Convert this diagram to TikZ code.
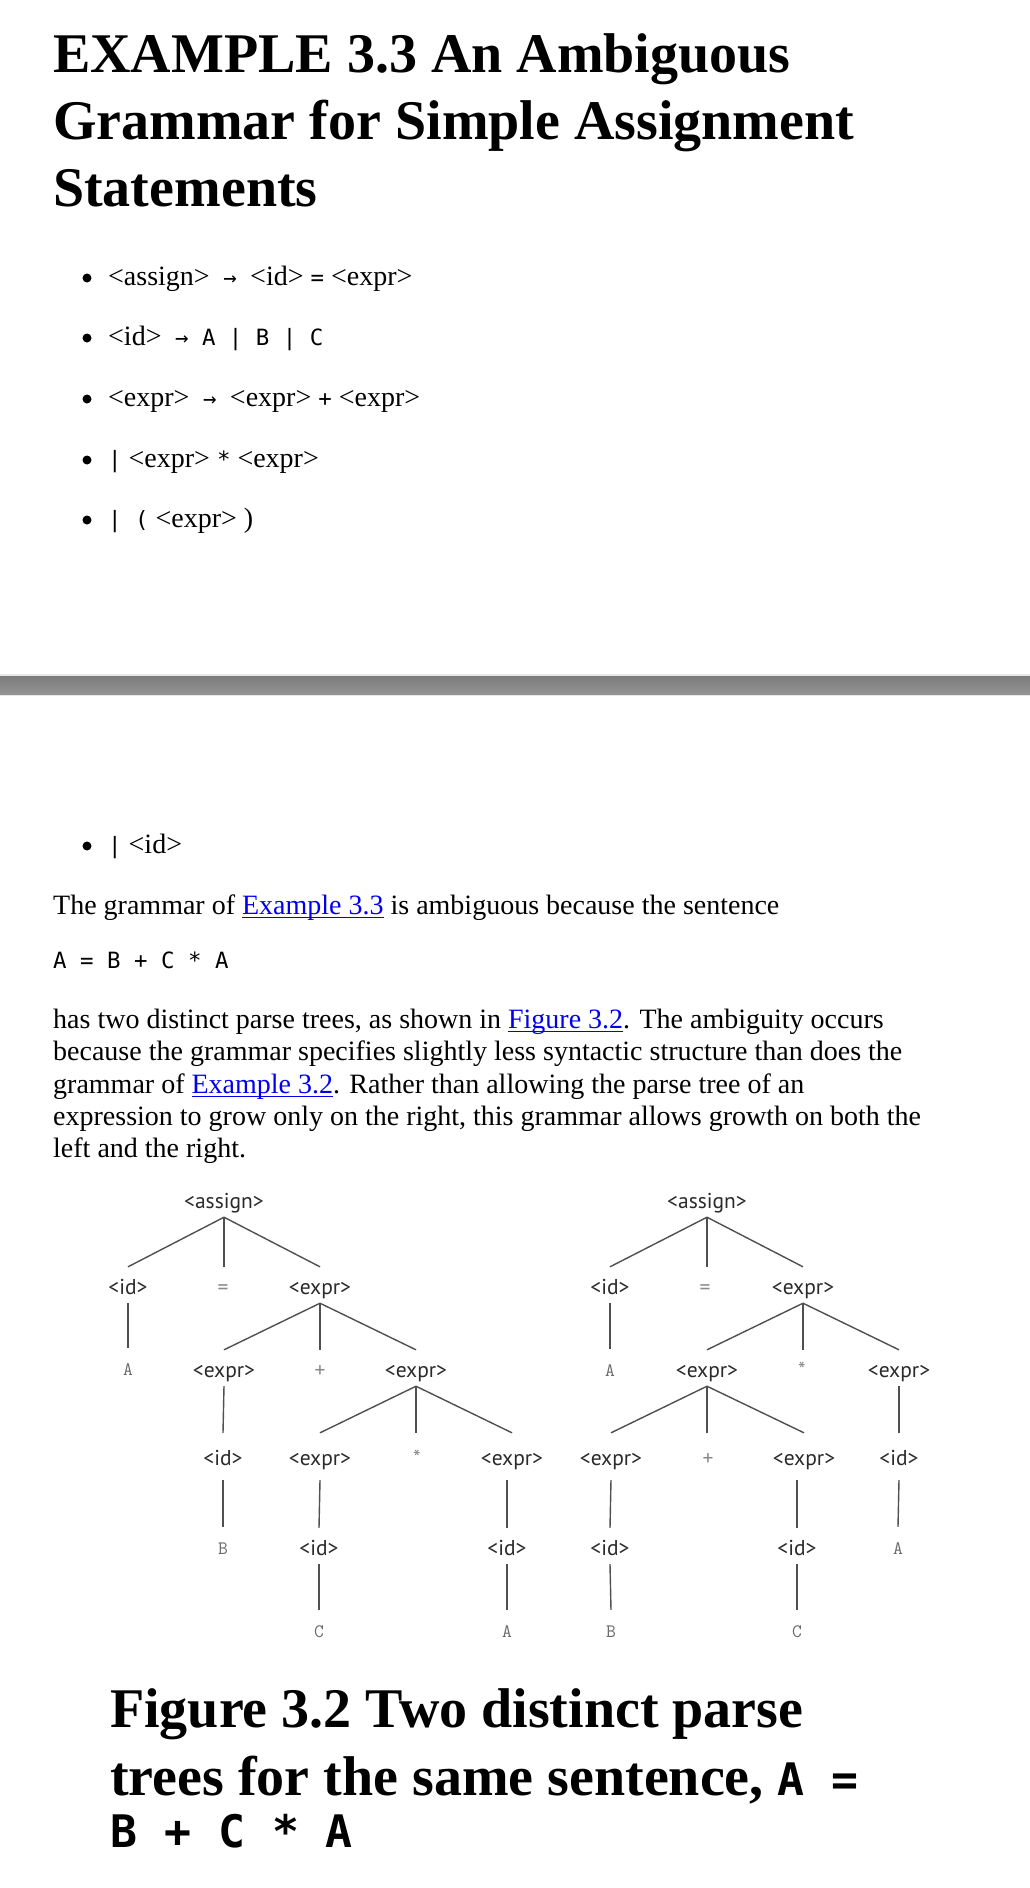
\documentclass[tikz,border=0pt]{standalone}
\usepackage{fontspec}
\setmainfont{Liberation Serif}
\newfontfamily\monofont{DejaVu Sans Mono}
\newfontfamily\treefont{PT Sans}
\definecolor{linkblue}{HTML}{0000EE}
\definecolor{treetext}{HTML}{2A2A2A}
\definecolor{opgray}{HTML}{8A8A8A}
\definecolor{termgray}{HTML}{6A6A6A}
\definecolor{linegray}{HTML}{505050}
\definecolor{barlight}{HTML}{E8E8E8}
\definecolor{bartop}{HTML}{7C7C7C}
\definecolor{barbot}{HTML}{939393}
\newcommand\bodysize{\fontsize{28}{32.2}\selectfont}
\newcommand\mono[1]{{\monofont\fontsize{22.4}{26}\selectfont #1}}
\newcommand\capmono[1]{{\monofont\bfseries\fontsize{44.8}{52}\selectfont #1}}
\newsavebox\lnkbox
\newcommand\lnk[1]{\textcolor{linkblue}{\sbox\lnkbox{#1}\rlap{\rule[-4.2pt]{\wd\lnkbox}{1.4pt}}\usebox\lnkbox}}
\tikzset{
  ttl/.style={anchor=base west, inner sep=0pt, font=\fontsize{56}{67}\selectfont\bfseries},
  txt/.style={anchor=base west, inner sep=0pt, font=\bodysize},
  bul/.style={circle, fill=black, inner sep=0pt, minimum size=9pt},
  tl/.style={font=\treefont\fontsize{21.5}{25}\selectfont, text=treetext, inner sep=0pt, text height=27pt, text depth=9pt, anchor=base},
  tlthree/.style={tl, text height=32pt, text depth=15pt},
  op/.style={text=opgray},
  term/.style={font=\ttfamily\fontsize{19}{22}\selectfont, text=termgray},
  br/.style={draw=linegray, line width=1.4pt},
}
\begin{document}
\begin{tikzpicture}[x=1pt,y=-1pt]
\path[use as bounding box, fill=white] (0,0) rectangle (1030,1888);

% title
\node[ttl] (t1) at (53,72) {EXAMPLE 3.3 An Ambiguous};
\node[ttl] (t2) at (53,139) {Grammar for Simple Assignment};
\node[ttl] (t3) at (53,206) {Statements};

% grammar list
\node[bul] (b1) at (87,278) {};
\node[txt] (i1) at (108,285) {<assign>\mono{\ →\ }<id> \mono{=} <expr>};
\node[bul] (b2) at (87,338) {};
\node[txt] (i2) at (108,345) {<id>\mono{\ →\ A | B | C}};
\node[bul] (b3) at (87,399) {};
\node[txt] (i3) at (108,406) {<expr>\mono{\ →\ }<expr> \mono{+} <expr>};
\node[bul] (b4) at (87,460) {};
\node[txt] (i4) at (108,467) {\mono{|} <expr> \mono{*} <expr>};
\node[bul] (b5) at (87,520) {};
\node[txt] (i5) at (108,527) {\mono{| (} <expr> )};

% page break bar
\fill[barlight] (0,674) rectangle (1030,696);
\shade[top color=bartop, bottom color=barbot] (0,676) rectangle (1030,694);

\node[bul] (b6) at (87,846) {};
\node[txt] (i6) at (108,853) {\mono{|} <id>};

% body text
\node[txt] (p0) at (53,914) {The grammar of \lnk{Example 3.3} is ambiguous because the sentence};
\node[txt] (s0) at (53,968) {\mono{A = B + C * A}};
\node[txt] (p1) at (53,1028) {has two distinct parse trees, as shown in \lnk{Figure 3.2}. The ambiguity occurs};
\node[txt] (p2) at (53,1060) {because the grammar specifies slightly less syntactic structure than does the};
\node[txt] (p3) at (53,1093) {grammar of \lnk{Example 3.2}. Rather than allowing the parse tree of an};
\node[txt] (p4) at (53,1125) {expression to grow only on the right, this grammar allows growth on both the};
\node[txt] (p5) at (53,1157) {left and the right.};

% left parse tree
\node[tl] (a1) at (224,1208) {<assign>};
\node[tl] (a1id) at (128,1294) {<id>};
\node[tl,op] (a1eq) at (223,1294) {=};
\node[tl] (a1ex) at (320,1294) {<expr>};
\node[tl,term] (a2A) at (128,1375) {A};
\node[tl] (a2e1) at (224,1377) {<expr>};
\node[tl,op] (a2p) at (320,1377) {+};
\node[tl] (a2e2) at (416,1377) {<expr>};
\node[tlthree] (a3id) at (223,1465) {<id>};
\node[tlthree] (a3e1) at (320,1465) {<expr>};
\node[tlthree,op] (a3s) at (417,1465) {*};
\node[tlthree] (a3e2) at (512,1465) {<expr>};
\node[tl,term] (a4B) at (223,1554) {B};
\node[tl] (a4id1) at (319,1555) {<id>};
\node[tl] (a4id2) at (507,1555) {<id>};
\node[tl,term] (a5C) at (319,1637) {C};
\node[tl,term] (a5A) at (507,1637) {A};

\path[br] (a1.south) -- (a1id.north);
\path[br] (a1.south) -- (a1.south |- a1eq.north);
\path[br] (a1.south) -- (a1ex.north);
\path[br] (a1id.south) -- (a2A.north);
\path[br] (a1ex.south) -- (a2e1.north);
\path[br] (a1ex.south) -- (a1ex.south |- a2p.north);
\path[br] (a1ex.south) -- (a2e2.north);
\path[br] (a2e1.south) -- (a3id.north);
\path[br] (a2e2.south) -- (a3e1.north);
\path[br] (a2e2.south) -- (a2e2.south |- a3s.north);
\path[br] (a2e2.south) -- (a3e2.north);
\path[br] (a3id.south) -- (a4B.north);
\path[br] (a3e1.south) -- (a4id1.north);
\path[br] (a3e2.south -| a4id2.north) -- (a4id2.north);
\path[br] (a4id1.south) -- (a5C.north);
\path[br] (a4id2.south) -- (a5A.north);

% right parse tree
\node[tl] (c1) at (707,1208) {<assign>};
\node[tl] (c1id) at (610,1294) {<id>};
\node[tl,op] (c1eq) at (705,1294) {=};
\node[tl] (c1ex) at (803,1294) {<expr>};
\node[tl,term] (c2A) at (610,1376) {A};
\node[tl] (c2e1) at (707,1377) {<expr>};
\node[tl,op] (c2s) at (802,1377) {*};
\node[tl] (c2e2) at (899,1377) {<expr>};
\node[tlthree] (c3e1) at (611,1465) {<expr>};
\node[tlthree,op] (c3p) at (708,1465) {+};
\node[tlthree] (c3e2) at (804,1465) {<expr>};
\node[tlthree] (c3id) at (899,1465) {<id>};
\node[tl] (c4id1) at (610,1555) {<id>};
\node[tl] (c4id2) at (797,1555) {<id>};
\node[tl,term] (c4A) at (898,1554) {A};
\node[tl,term] (c5B) at (611,1637) {B};
\node[tl,term] (c5C) at (797,1637) {C};

\path[br] (c1.south) -- (c1id.north);
\path[br] (c1.south) -- (c1.south |- c1eq.north);
\path[br] (c1.south) -- (c1ex.north);
\path[br] (c1id.south) -- (c2A.north);
\path[br] (c1ex.south) -- (c2e1.north);
\path[br] (c1ex.south) -- (c1ex.south |- c2s.north);
\path[br] (c1ex.south) -- (c2e2.north);
\path[br] (c2e1.south) -- (c3e1.north);
\path[br] (c2e1.south) -- (c2e1.south |- c3p.north);
\path[br] (c2e1.south) -- (c3e2.north);
\path[br] (c2e2.south) -- (c3id.north);
\path[br] (c3e1.south) -- (c4id1.north);
\path[br] (c3e2.south -| c4id2.north) -- (c4id2.north);
\path[br] (c3id.south) -- (c4A.north);
\path[br] (c4id1.south) -- (c5B.north);
\path[br] (c4id2.south) -- (c5C.north);

% caption
\node[ttl] (f1) at (110,1727) {Figure 3.2 Two distinct parse};
\node[ttl] (f2) at (110,1795) {trees for the same sentence, \capmono{A =}};
\node[ttl] (f3) at (110,1847) {\capmono{B + C * A}};
\end{tikzpicture}
\end{document}
